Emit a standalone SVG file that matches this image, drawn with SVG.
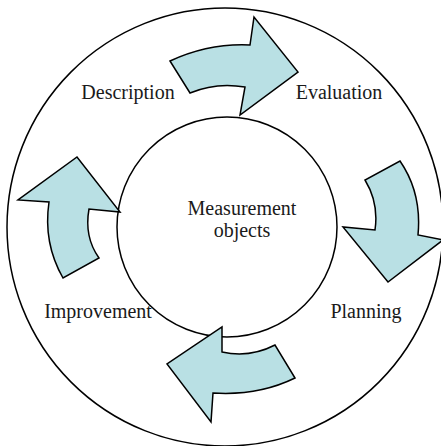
<svg xmlns="http://www.w3.org/2000/svg" width="441" height="446" viewBox="0 0 441 446">
<style>
.ring{fill:none;stroke:#000;stroke-width:1.5}
.arr{fill:#b9e0e4;stroke:#000;stroke-width:1.5;stroke-linejoin:miter}
.lbl{font-family:"Liberation Serif","Times New Roman",serif;font-size:20px;fill:#1a1a1a}
</style>
<rect width="441" height="446" fill="#fff"/>
<g id="outer-circle"><ellipse class="ring" cx="225" cy="227" rx="218" ry="219"/></g>
<g id="measurement-objects">
<circle class="ring" cx="227" cy="227" r="110"/>
<text class="lbl" x="242" y="215" text-anchor="middle">Measurement</text>
<text class="lbl" x="242" y="237" text-anchor="middle">objects</text>
</g>
<g id="description"><text class="lbl" x="128" y="99" text-anchor="middle">Description</text></g>
<g id="evaluation"><text class="lbl" x="339" y="99" text-anchor="middle">Evaluation</text></g>
<g id="planning"><text class="lbl" x="366" y="318" text-anchor="middle">Planning</text></g>
<g id="improvement"><text class="lbl" x="98" y="318" text-anchor="middle">Improvement</text></g>
<g id="connectors">
<path class="arr" d="M170,61 Q209,43 250,45 L254,17 L298,72 L240,115 L245,87 Q216,82 190,93 Z"/>
<path class="arr" d="M400,161 Q422,193 418,235 L443,240 L388,282 L343,227 L375,230 Q379,203 365,180 Z"/>
<path class="arr" d="M275,345 Q250,358 222,352 L222,327 L167,364 L211,422 L213,393 Q258,396 295,378 Z"/>
<path class="arr" d="M63,278 Q43,243 49,202 L18,200 L77,157 L120,212 L89,209 Q84,237 99,258 Z"/>
</g>
</svg>
